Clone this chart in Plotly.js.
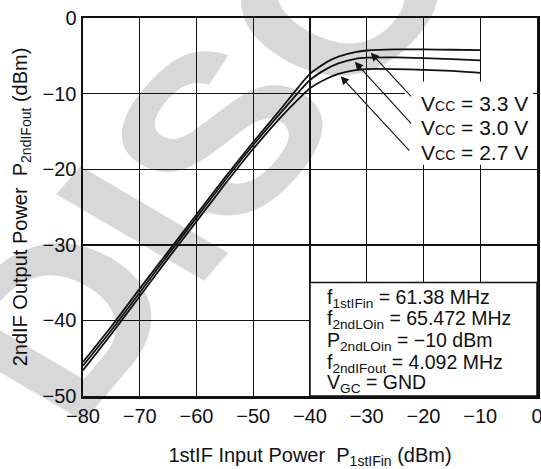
<!DOCTYPE html>
<html><head><meta charset="utf-8">
<script src="https://cdn.plot.ly/plotly-3.0.1.min.js"></script>
<style>
html,body{margin:0;padding:0;background:#fff;}
#wrap{position:relative;width:541px;height:469px;overflow:hidden;background:#fff;}
#wm{position:absolute;left:-109px;top:328px;transform-origin:0 0;transform:matrix(0.668,-0.777,0.86,0.503,0,0);font-family:'Liberation Sans',Arial,sans-serif;font-weight:bold;font-size:250px;line-height:1;color:#d8d8d8;white-space:nowrap;}
#chart{position:absolute;left:0;top:0;width:541px;height:469px;}
</style></head><body>
<div id="wrap"><div id="wm">DISCONTINUED</div><div id="chart"></div></div>
<script>
const inputPower = [-80, -75, -70, -65, -60, -55, -50, -45, -42, -40, -37, -35, -32, -30, -25, -20, -15, -10];
const outVcc33 = [-45.5, -40.8, -35.8, -30.9, -26.0, -21.1, -16.4, -11.9, -9.1, -7.4, -5.8, -5.1, -4.5, -4.3, -4.15, -4.15, -4.2, -4.25];
const outVcc30 = [-46.0, -41.3, -36.3, -31.3, -26.4, -21.5, -16.8, -12.4, -9.8, -8.2, -6.7, -6.0, -5.4, -5.25, -5.2, -5.3, -5.45, -5.6];
const outVcc27 = [-46.6, -41.8, -36.8, -31.8, -26.9, -22.0, -17.3, -13.0, -10.7, -9.3, -8.0, -7.4, -6.9, -6.75, -6.75, -6.85, -7.0, -7.25];
const seriesNames = ['V<span style="font-size:14px">CC</span> = 3.3 V', 'V<span style="font-size:14px">CC</span> = 3.0 V', 'V<span style="font-size:14px">CC</span> = 2.7 V'];
const xTicks = [-80, -70, -60, -50, -40, -30, -20, -10, 0];
const yTicks = [0, -10, -20, -30, -40, -50];
const conditions = ['f<sub>1stIFin</sub> = 61.38 MHz', 'f<sub>2ndLOin</sub> = 65.472 MHz', 'P<sub>2ndLOin</sub> = \u221210 dBm', 'f<sub>2ndIFout</sub> = 4.092 MHz', 'V<sub>GC</sub> = GND'];

const FONT = 'Liberation Sans, Arial, Helvetica, sans-serif';
const series = [outVcc33, outVcc30, outVcc27];
const traces = series.map((ys, i) => ({
  x: inputPower, y: ys, type: 'scatter', mode: 'lines', name: seriesNames[i],
  line: {color: '#111', width: 1.8, shape: 'spline', smoothing: 0.6},
  hoverinfo: 'skip'
}));

// label positions and arrow tips (layout positions only)
const labelPos = [[-20.8, -11.3], [-20.8, -14.5], [-20.8, -17.8]];
const arrowTip = [[-29.3, -4.6], [-32.1, -5.8], [-34.6, -7.7]];
const arrowTail = [[-21.4, -11.0], [-21.4, -14.6], [-21.7, -18.2]];
const condY = [-37.1, -39.93, -42.81, -45.67, -48.37];

const annotations = [];
seriesNames.forEach((t, i) => {
  annotations.push({x: arrowTip[i][0], y: arrowTip[i][1], ax: arrowTail[i][0], ay: arrowTail[i][1],
    xref: 'x', yref: 'y', axref: 'x', ayref: 'y', text: ' ', showarrow: true,
    arrowhead: 2, arrowsize: 1.5, arrowwidth: 1.1, arrowcolor: '#111', standoff: 0, startstandoff: 0});
  annotations.push({x: labelPos[i][0], y: labelPos[i][1], xref: 'x', yref: 'y', text: t, showarrow: false,
    xanchor: 'left', yanchor: 'middle', font: {family: FONT, size: 21, color: '#111'}});
});
conditions.forEach((t, i) => {
  annotations.push({x: -37.4, y: condY[i], xref: 'x', yref: 'y', text: t, showarrow: false,
    xanchor: 'left', yanchor: 'middle', font: {family: FONT, size: 19.5, color: '#111'}});
});

const layout = {
  width: 541, height: 469,
  margin: {l: 83, r: 4, t: 18, b: 73, pad: 0},
  paper_bgcolor: 'rgba(0,0,0,0)', plot_bgcolor: 'rgba(0,0,0,0)',
  showlegend: false,
  font: {family: FONT, size: 20, color: '#111'},
  xaxis: {range: [-80, 0], tickvals: xTicks, ticktext: xTicks.map(v => v < 0 ? '\u2212' + Math.abs(v) : String(v)),
    showgrid: true, gridcolor: '#111', gridwidth: 1.4, zeroline: false,
    showline: true, linecolor: '#111', linewidth: 2.5, mirror: true, ticks: '',
    ticklabeloverflow: 'allow',
    tickfont: {family: FONT, size: 20, color: '#111'},
    title: {text: '1stIF Input Power\u00a0\u00a0P<sub>1stIFin</sub> (dBm)', font: {family: FONT, size: 20, color: '#111'}, standoff: 25}},
  yaxis: {range: [-50, 0], tickvals: yTicks, ticktext: yTicks.map(v => v < 0 ? '\u2212' + Math.abs(v) : String(v)),
    showgrid: true, gridcolor: '#111', gridwidth: 1.4, zeroline: false,
    showline: true, linecolor: '#111', linewidth: 2.5, mirror: true, ticks: '',
    ticklabeloverflow: 'allow',
    tickfont: {family: FONT, size: 20, color: '#111'},
    title: {text: '2ndIF Output Power\u00a0\u00a0P<sub>2ndIFout</sub> (dBm)', font: {family: FONT, size: 20, color: '#111'}, standoff: 10}},
  shapes: [
    {type: 'rect', xref: 'x', yref: 'y', x0: -23.3, x1: -0.7, y0: -19.4, y1: -8.4, fillcolor: '#fff', line: {width: 0}, layer: 'above'},
    {type: 'rect', xref: 'x', yref: 'y', x0: -40, x1: 0, y0: -50, y1: -35, fillcolor: '#fff', line: {color: '#111', width: 1.5}, layer: 'above'}
  ],
  annotations: annotations
};
Plotly.newPlot('chart', traces, layout, {staticPlot: true, displayModeBar: false});
</script>
</body></html>
